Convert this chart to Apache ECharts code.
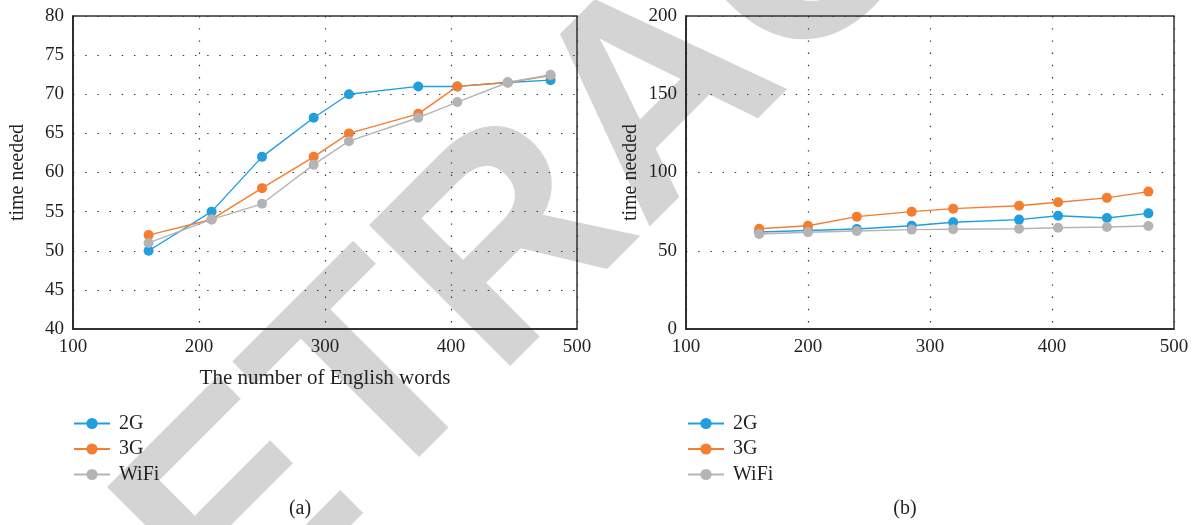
<!DOCTYPE html>
<html>
<head>
<meta charset="utf-8">
<script src="https://cdn.jsdelivr.net/npm/echarts@6/dist/echarts.min.js"></script>
<style>
  html, body { margin: 0; padding: 0; background: #fff; }
  #chart { width: 1199px; height: 525px; }
</style>
</head>
<body>
<div id="chart"></div>
<script>
// Panel (a): words vs. time needed
const wordsA = [160, 210, 250, 291, 319, 374, 405, 445, 479];
const a2G    = [50, 55, 62, 67, 70, 71, 71, 71.5, 71.8];
const a3G    = [52, 54, 58, 62, 65, 67.5, 71, 71.5, 72.4];
const aWiFi  = [51, 54, 56, 61, 64, 67, 69, 71.5, 72.5];

// Panel (b)
const wordsB = [160, 200, 240, 285, 319, 373, 405, 445, 479];
const b2G    = [62, 62.9, 63.9, 66, 68.2, 69.9, 72.4, 70.9, 73.9];
const b3G    = [64.1, 66, 71.8, 75, 76.9, 78.8, 81, 83.8, 87.8];
const bWiFi  = [60.7, 61.8, 62.6, 63.5, 63.7, 64.1, 64.7, 65.2, 65.8];

const seriesNames = ['2G', '3G', 'WiFi'];
const xTicks = [100, 500, 100];      // min, max, interval
const yTicksA = [40, 80, 5];
const yTicksB = [0, 200, 50];

const colors = { '2G': '#219fdc', '3G': '#f47d30', 'WiFi': '#b4b4b6' };
const serif = '"Liberation Serif", "DejaVu Serif", serif';
const ink = '#231f20';

function pairs(xs, ys) { return xs.map((x, i) => [x, ys[i]]); }

function lineSeries(name, xs, ys, idx) {
  return {
    name: name, type: 'line',
    xAxisIndex: idx, yAxisIndex: idx,
    data: pairs(xs, ys),
    symbol: 'circle', symbolSize: 10, showSymbol: true,
    color: colors[name],
    lineStyle: { width: 1.4, color: colors[name] },
    itemStyle: { color: colors[name] },
    emphasis: { disabled: true },
    animation: false
  };
}

// sparse dotted grid lines
const dotted = { show: true, lineStyle: { color: '#333', width: 1.2, type: [1.4, 10.8] } };

function xAxis(idx, name) {
  return {
    type: 'value', gridIndex: idx,
    min: xTicks[0], max: xTicks[1], interval: xTicks[2],
    name: name, nameLocation: 'middle', nameGap: 39,
    nameTextStyle: { fontFamily: serif, fontSize: 21, color: ink },
    axisLine: { show: true, lineStyle: { color: '#222', width: 1.6 } },
    axisTick: { show: false },
    axisLabel: { fontFamily: serif, fontSize: 19, color: ink, margin: 9 },
    splitLine: dotted
  };
}

function yAxis(idx, ticks) {
  return {
    type: 'value', gridIndex: idx,
    min: ticks[0], max: ticks[1], interval: ticks[2],
    name: 'time needed', nameLocation: 'middle', nameGap: 45,
    nameTextStyle: { fontFamily: serif, fontSize: 20, color: ink },
    axisLine: { show: true, lineStyle: { color: '#222', width: 1.6 } },
    axisTick: { show: false },
    axisLabel: { fontFamily: serif, fontSize: 19, color: ink, margin: 9 },
    splitLine: dotted
  };
}

function legend(left) {
  return {
    data: seriesNames,
    orient: 'vertical',
    left: left, top: 413.5, padding: 0,
    itemWidth: 36, itemHeight: 14, itemGap: 5.5,
    textStyle: { fontFamily: serif, fontSize: 20, color: ink, padding: [0, 0, 0, 4] },
    selectedMode: false
  };
}

const chart = echarts.init(document.getElementById('chart'), null, { renderer: 'canvas' });
chart.setOption({
  animation: false,
  backgroundColor: '#fff',
  grid: [
    { left: 73, top: 16, width: 504, height: 313, show: true, borderColor: '#333', borderWidth: 1.5, backgroundColor: 'transparent' },
    { left: 686, top: 16, width: 488, height: 313, show: true, borderColor: '#333', borderWidth: 1.5, backgroundColor: 'transparent' }
  ],
  xAxis: [xAxis(0, 'The number of English words'), xAxis(1, '')],
  yAxis: [yAxis(0, yTicksA), yAxis(1, yTicksB)],
  legend: [legend(73), legend(687)],
  graphic: [
    // diagonal stamp behind both panels
    {
      type: 'text', z: -10, silent: true,
      x: 662, y: 101, rotation: Math.PI / 4,
      style: {
        text: 'RETRACTED', fill: '#d4d4d4',
        font: 'bold 290px "Liberation Sans", Arial, sans-serif',
        align: 'center', verticalAlign: 'middle'
      }
    },
    { type: 'text', x: 300, y: 509, style: { text: '(a)', fill: ink, font: '20px ' + serif, align: 'center', verticalAlign: 'middle' } },
    { type: 'text', x: 905, y: 509, style: { text: '(b)', fill: ink, font: '20px ' + serif, align: 'center', verticalAlign: 'middle' } }
  ],
  series: [
    lineSeries('2G', wordsA, a2G, 0),
    lineSeries('3G', wordsA, a3G, 0),
    lineSeries('WiFi', wordsA, aWiFi, 0),
    lineSeries('2G', wordsB, b2G, 1),
    lineSeries('3G', wordsB, b3G, 1),
    lineSeries('WiFi', wordsB, bWiFi, 1)
  ]
});
</script>
</body>
</html>
